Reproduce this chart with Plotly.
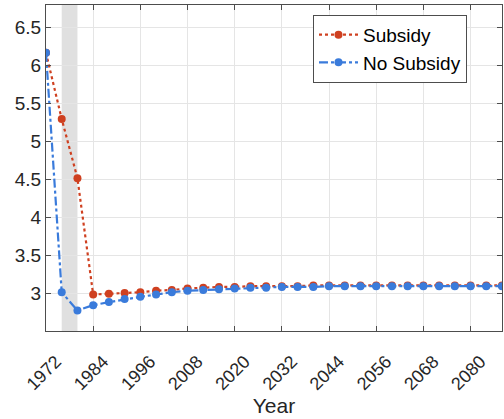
import plotly.graph_objects as go

years = list(range(1972, 2089, 4))
subsidy = [6.17, 5.30, 4.52, 2.99, 3.00, 3.01, 3.02, 3.04, 3.05, 3.07,
           3.08, 3.09, 3.09, 3.10, 3.10, 3.10, 3.10, 3.11, 3.11, 3.11,
           3.11, 3.11, 3.11, 3.11, 3.11, 3.11, 3.11, 3.11, 3.11, 3.11]
no_subsidy = [6.17, 3.02, 2.78, 2.85, 2.89, 2.93, 2.96, 2.99, 3.02, 3.04,
              3.05, 3.06, 3.07, 3.08, 3.08, 3.09, 3.09, 3.09, 3.10, 3.10,
              3.10, 3.10, 3.10, 3.10, 3.10, 3.10, 3.10, 3.10, 3.10, 3.10]
band = [1976, 1980]
xticks = list(range(1972, 2081, 12))
yticks = [3, 3.5, 4, 4.5, 5, 5.5, 6, 6.5]

RED = "#CF4020"
BLUE = "#3A7BDB"
FONT = "Liberation Sans, Arial, sans-serif"

fig = go.Figure()
fig.add_trace(go.Scatter(
    x=years, y=subsidy, name="Subsidy", mode="lines+markers",
    line=dict(color=RED, width=2.2, dash="dot"),
    marker=dict(color=RED, size=8)))
fig.add_trace(go.Scatter(
    x=years, y=no_subsidy, name="No Subsidy", mode="lines+markers",
    line=dict(color=BLUE, width=2.2, dash="dashdot"),
    marker=dict(color=BLUE, size=8)))

fig.add_shape(type="rect", xref="x", yref="paper", x0=band[0], x1=band[1],
              y0=0, y1=1, fillcolor="#E0E0E0", line=dict(width=0), layer="below")

axis_common = dict(
    showgrid=True, gridcolor="#E5E5E5", gridwidth=1,
    showline=True, linecolor="#4D4D4D", linewidth=1, mirror="ticks",
    ticks="inside", ticklen=5, tickcolor="#4D4D4D",
    zeroline=False, automargin=False,
)

fig.update_layout(
    width=504, height=419,
    margin=dict(l=46, r=2, t=5, b=88),
    paper_bgcolor="white", plot_bgcolor="white",
    font=dict(family=FONT, color="#262626"),
    xaxis=dict(range=[1972, 2088], tickvals=xticks,
               ticktext=[str(t) for t in xticks], tickangle=-45,
               ticklabelstandoff=12, ticklabelshift=10,
               tickfont=dict(family=FONT, size=18, color="#262626"),
               title=dict(text="Year", font=dict(family=FONT, size=21, color="#262626"),
                          standoff=2),
               **axis_common),
    yaxis=dict(range=[2.51, 6.8], tickvals=yticks,
               ticktext=[f"{t:g}" for t in yticks],
               tickfont=dict(family=FONT, size=19, color="#262626"),
               **axis_common),
    legend=dict(x=0.5855, y=0.97, xanchor="left", yanchor="top",
                bgcolor="white", bordercolor="#4D4D4D", borderwidth=1,
                font=dict(family=FONT, size=19, color="#000000"),
                tracegroupgap=0, itemwidth=39),
    showlegend=True,
)

fig.write_html("out.html", config={"displayModeBar": False},
               post_script="document.body.style.margin='0';document.body.style.padding='0';")
